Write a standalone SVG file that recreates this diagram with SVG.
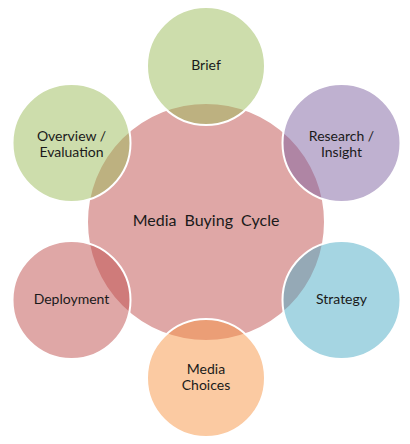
<svg xmlns="http://www.w3.org/2000/svg" width="410" height="444" viewBox="0 0 410 444">
  <style>
    .bg { fill: #ffffff; }
    .node { stroke: #ffffff; stroke-width: 2; fill-opacity: 0.5; }
    .center { fill: #C0504D; }
    .green { fill: #9BBB59; }
    .purple { fill: #8064A2; }
    .blue { fill: #4BACC6; }
    .orange { fill: #F79646; }
    .red { fill: #C0504D; }
    text { font-family: Lato, "Liberation Sans", sans-serif; fill: #1a1a1a; text-anchor: middle; }
    .lbl { font-size: 14px; }
    .main { font-size: 16px; word-spacing: 4px; }
  </style>
  <rect class="bg" x="0" y="0" width="410" height="444"/>
  <g id="hub">
    <circle class="node center" cx="206" cy="222" r="119"/>
    <text class="main" x="206" y="226">Media Buying Cycle</text>
  </g>
  <g id="connectors"/>
  <g id="brief">
    <circle class="node green" cx="206" cy="66" r="59"/>
    <text class="lbl" x="206" y="70">Brief</text>
  </g>
  <g id="research">
    <circle class="node purple" cx="341.5" cy="143" r="59"/>
    <text class="lbl" x="341.5" y="141">Research /</text>
    <text class="lbl" x="341.5" y="156.5">Insight</text>
  </g>
  <g id="strategy">
    <circle class="node blue" cx="341.5" cy="300" r="59"/>
    <text class="lbl" x="341.5" y="304">Strategy</text>
  </g>
  <g id="media-choices">
    <circle class="node orange" cx="206" cy="378" r="59"/>
    <text class="lbl" x="206" y="374">Media</text>
    <text class="lbl" x="206" y="390">Choices</text>
  </g>
  <g id="deployment">
    <circle class="node red" cx="71.5" cy="300" r="59"/>
    <text class="lbl" x="71.5" y="304">Deployment</text>
  </g>
  <g id="overview">
    <circle class="node green" cx="71.5" cy="143" r="59"/>
    <text class="lbl" x="71.5" y="141">Overview /</text>
    <text class="lbl" x="71.5" y="156.5">Evaluation</text>
  </g>
</svg>
